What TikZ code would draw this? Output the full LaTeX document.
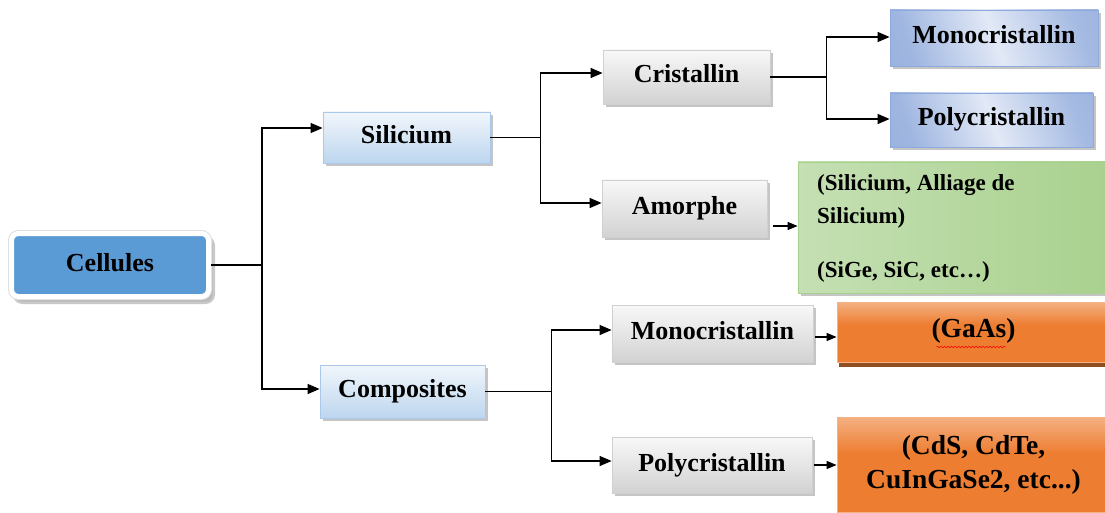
\documentclass[tikz,border=0pt]{standalone}
\usepackage{fontspec}
\setmainfont{Liberation Serif}
\usetikzlibrary{arrows.meta,shadows,decorations.pathmorphing,calc}

\definecolor{rootblue}{HTML}{5B9BD5}
\definecolor{siltop}{HTML}{F1F6FC}
\definecolor{silbot}{HTML}{BDD6EE}
\definecolor{silline}{HTML}{A9C8EA}
\definecolor{greytop}{HTML}{F8F8F8}
\definecolor{greybot}{HTML}{D2D2D2}
\definecolor{greyline}{HTML}{D0D0D0}
\definecolor{bluedark}{HTML}{8EA9DB}
\definecolor{bluemid}{HTML}{E2E9F6}
\definecolor{greenedge}{HTML}{A9D18E}
\definecolor{greenleft}{HTML}{C5E0B4}
\definecolor{greenmid}{HTML}{E4F0DC}
\definecolor{orangetop}{HTML}{F4B183}
\definecolor{orangemain}{HTML}{ED7D31}
\definecolor{orangeshadow}{HTML}{843C0C}

% orange fill: light band at the top, solid orange below
\pgfdeclareverticalshading{orangefade}{100bp}{color(0bp)=(orangemain); color(56bp)=(orangemain);
  color(75bp)=(orangetop); color(100bp)=(orangetop)}
% blue fill: darker edges, pale middle, slightly diagonal
\pgfdeclarehorizontalshading{bluefade}{100bp}{color(0bp)=(bluedark); color(25bp)=(bluedark!85!white);
  color(50bp)=(bluemid); color(75bp)=(bluedark!80!white); color(100bp)=(bluedark)}

\begin{document}
\begin{tikzpicture}[x=1pt,y=-1pt,
  lbl/.style={font=\fontsize{26}{30}\selectfont\bfseries, inner sep=0pt,
              text height=18pt, text depth=6pt},
  boxshadow/.style={drop shadow={shadow xshift=3pt, shadow yshift=-3pt,
              fill=gray!75, opacity=0.6}},
  rootbox/.style={lbl, fill=rootblue, draw=white, line width=5pt, rounded corners=7pt,
              drop shadow={shadow xshift=4pt, shadow yshift=-5pt, fill=gray!60,
              draw=gray!60, line width=5pt, opacity=0.7},
              preaction={draw=gray!25, line width=7pt}},
  silbox/.style={lbl, boxshadow, draw=silline, line width=0.8pt,
              top color=siltop, bottom color=silbot},
  greybox/.style={lbl, boxshadow, draw=greyline, line width=0.8pt,
              top color=greytop, bottom color=greybot},
  bluebox/.style={lbl, boxshadow, draw=bluedark, line width=0.8pt,
              shading=bluefade, shading angle=20},
  greenbox/.style={boxshadow, draw=greenedge, line width=0.8pt, inner sep=0pt,
              left color=greenleft, middle color=greenmid, right color=greenedge},
  orangebox/.style={draw=orangetop, line width=0.8pt, inner sep=0pt,
              shading=orangefade,
              drop shadow={shadow xshift=2pt, shadow yshift=-5pt,
              fill=orangeshadow, opacity=0.9}},
  link/.style={line width=1.3pt, -{Triangle[length=12pt,width=10pt]}},
  shortlink/.style={line width=1.3pt, -{Triangle[length=10pt,width=8pt]}},
  ]

\useasboundingbox (0,0) rectangle (1105,513);
\fill[white] (0,0) rectangle (1105,513);
\clip (0,0) rectangle (1105,513);

% root of the classification
\node[rootbox, minimum width=197pt, minimum height=63pt] (root) at (110,265) {Cellules};

% first level
\node[silbox, minimum width=167pt, minimum height=51pt] (sil) at (406.5,137.5) {Silicium};
\node[silbox, minimum width=165pt, minimum height=53pt] (comp) at (402.5,391.5) {Composites};

% silicon branch
\node[greybox, minimum width=167pt, minimum height=54pt] (cri) at (686.5,77) {Cristallin};
\node[greybox, minimum width=165pt, minimum height=57pt] (amo) at (684.5,208.5) {Amorphe};
\node[bluebox, minimum width=208pt, minimum height=56pt] (mono1) at (994,38) {Monocristallin};
\node[bluebox, minimum width=203pt, minimum height=54pt] (poly1) at (991.5,120) {Polycristallin};
\node[greenbox, minimum width=312pt, minimum height=131pt] (grn) at (954,227.5) {};
\node[anchor=north west, inner sep=0pt, align=left,
      font=\fontsize{23}{33}\selectfont\bfseries] (gtxt) at (817,174.5)
      {(Silicium, Alliage de\\Silicium)\\[21pt](SiGe, SiC, etc…)};

% compound branch
\node[greybox, minimum width=201pt, minimum height=57pt] (mono2) at (712.5,333.5) {Monocristallin};
\node[greybox, minimum width=200pt, minimum height=56pt] (poly2) at (712,465) {Polycristallin};
\node[orangebox, minimum width=273pt, minimum height=60pt,
      font=\fontsize{27.5}{30}\selectfont\bfseries, text height=35pt, text depth=25pt]
      (gaas) at (973.5,332) {(GaAs)};
\node[orangebox, minimum width=273pt, minimum height=95pt, align=center,
      font=\fontsize{27.5}{34}\selectfont\bfseries]
      (cds) at (973.5,464.5) {(CdS, CdTe,\\CuInGaSe2, etc...)};

% spelling mark under GaAs
\draw[red, line width=0.6pt, decorate, decoration={snake, amplitude=0.8pt, segment length=3.5pt}]
  ($(gaas.center)+(-37,15)$) -- ($(gaas.center)+(32,15)$);

% connectors
\draw[link] (root.east) -- ++(51,0) coordinate (j1) |- ([yshift=9.5pt]sil.west);
\draw[link] (j1) |- ([yshift=2.5pt]comp.west);

\draw[link] (sil.east) -- ++(50,0) coordinate (j2) |- ([yshift=4pt]cri.west);
\draw[link] (j2) |- ([yshift=5.5pt]amo.west);

\draw[link] (cri.east) -- ++(56,0) coordinate (j3) |- ([yshift=1pt]mono1.west);
\draw[link] (j3) |- ([yshift=1pt]poly1.west);

\draw[link] (comp.east) -- ++(66,0) coordinate (j4) |- ([yshift=3.5pt]mono2.west);
\draw[link] (j4) |- ([yshift=4pt]poly2.west);

\draw[shortlink] ($(amo.east |- grn.west)+(6,-1.5)$) -- ($(grn.west)+(0,-1.5)$);
\draw[shortlink] ($(mono2.east)+(2,3.5)$) -- ($(mono2.east -| gaas.west)+(0,3.5)$);
\draw[shortlink] ($(poly2.east)+(2,0)$) -- (poly2.east -| cds.west);

\end{tikzpicture}
\end{document}
